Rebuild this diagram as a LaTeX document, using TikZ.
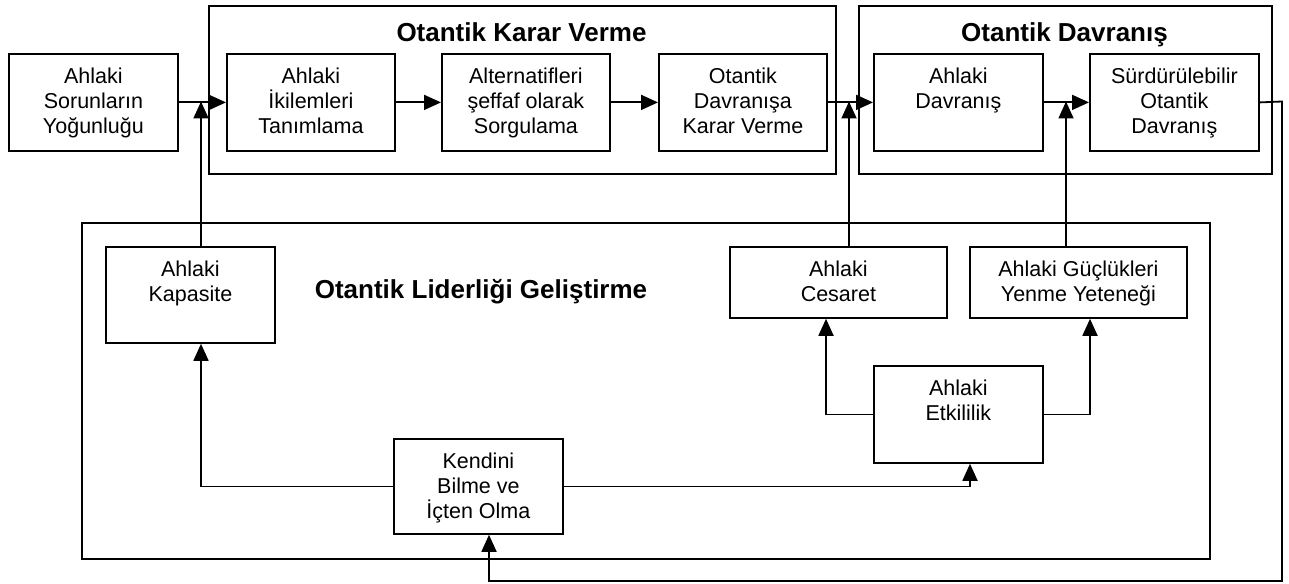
\documentclass[tikz,border=0pt]{standalone}
\usepackage{fontspec}
\setmainfont{Liberation Sans}
\usetikzlibrary{arrows.meta}
\newcommand{\bxt}[3]{\parbox[c][#2pt][t]{#1pt}{\centering\rule{0pt}{30pt}#3}}
\begin{document}
\begin{tikzpicture}[x=1pt,y=-1pt, line width=1.8pt, line join=miter,
  bx/.style={draw, inner sep=0pt, anchor=north west, font=\fontsize{21.5}{25}\selectfont},
  grp/.style={draw, inner sep=0pt, anchor=north west},
  ttl/.style={anchor=base, inner sep=0pt, font=\bfseries\fontsize{26}{30}\selectfont},
  arr/.style={-{Triangle[length=17pt,width=15pt]}}]
\useasboundingbox (0,0) rectangle (1289,583);
% groups
\node[grp, minimum width=627pt, minimum height=168pt] (kk) at (208,5) {};
\node[ttl] (kkt) at (521.5,42) {Otantik Karar Verme};
\node[grp, minimum width=413pt, minimum height=168pt] (od) at (858,5) {};
\node[ttl] (odt) at (1064.5,42) {Otantik Davranış};
\node[grp, minimum width=1128pt, minimum height=336pt] (lid) at (81,222) {};
\node[ttl] (lidt) at (481,298) {Otantik Liderliği Geliştirme};
% boxes
\node[bx] (sor) at (8,53) {\bxt{169}{97}{Ahlaki\\Sorunların\\Yoğunluğu}};
\node[bx] (ikil) at (226,53) {\bxt{168}{97}{Ahlaki\\İkilemleri\\Tanımlama}};
\node[bx] (alt) at (441,53) {\bxt{168}{97}{Alternatifleri\\şeffaf olarak\\Sorgulama}};
\node[bx] (odk) at (658,53) {\bxt{168}{97}{Otantik\\Davranışa\\Karar Verme}};
\node[bx] (ad) at (873,53) {\bxt{169}{97}{Ahlaki\\Davranış}};
\node[bx] (sod) at (1089,53) {\bxt{169}{97}{Sürdürülebilir\\Otantik\\Davranış}};
\node[bx] (kap) at (105,246) {\bxt{169}{96}{Ahlaki\\Kapasite}};
\node[bx] (ces) at (729,246) {\bxt{217}{71}{Ahlaki\\Cesaret}};
\node[bx] (guc) at (969,246) {\bxt{217}{71}{Ahlaki Güçlükleri\\Yenme Yeteneği}};
\node[bx] (etk) at (873,365) {\bxt{169}{97}{Ahlaki\\Etkililik}};
\node[bx] (ken) at (393,438) {\bxt{169}{95}{Kendini\\Bilme ve\\İçten Olma}};
% junctions
\coordinate (j1) at (201,101.5);
\coordinate (j2) at (849,101.5);
\coordinate (j3) at (1066,101.5);
\coordinate (fb1) at (1282,101.5);
\coordinate (fb2) at (1282,581);
\coordinate (kx) at (489,0);
\coordinate (ex) at (970,0);
\coordinate (cx) at (826,0);
\coordinate (gx) at (1090,0);
% connectors
\draw[arr] (sor.east) -- (ikil.west);
\draw[arr] (kap.north -| j1) -- (j1);
\draw[arr] (ikil.east) -- (alt.west);
\draw[arr] (alt.east) -- (odk.west);
\draw[arr] (odk.east) -- (ad.west);
\draw[arr] (ces.north -| j2) -- (j2);
\draw[arr] (ad.east) -- (sod.west);
\draw[arr] (guc.north -| j3) -- (j3);
\draw[arr] (sod.east) -- (fb1) -- (fb2) -- (fb2 -| kx) -- (ken.south -| kx);
\draw[arr] (ken.west) -| (kap.south -| j1);
\draw[arr] (ken.east) -| (etk.south -| ex);
\draw[arr] (etk.west) -| (ces.south -| cx);
\draw[arr] (etk.east) -| (guc.south -| gx);
\end{tikzpicture}
\end{document}
